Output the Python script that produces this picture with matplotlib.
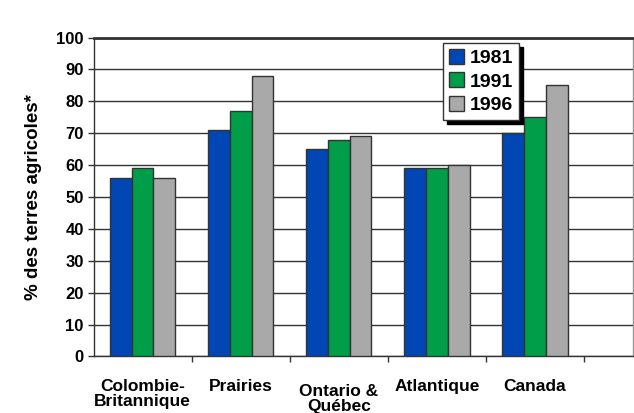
import matplotlib.pyplot as plt
import matplotlib.transforms as mtransforms
import numpy as np

plt.rcParams['font.family'] = ['Liberation Sans', 'DejaVu Sans']
plt.rcParams['font.weight'] = 'bold'

regions = ["Colombie-\nBritannique", "Prairies", "Ontario &\nQuébec", "Atlantique", "Canada"]
years = ["1981", "1991", "1996"]
v1981 = [56, 71, 65, 59, 70]
v1991 = [59, 77, 68, 59, 75]
v1996 = [56, 88, 69, 60, 85]
colors = ["#0046B4", "#009E48", "#A9A9A9"]

fig = plt.figure(figsize=(6.34, 4.13), dpi=100)
ax = fig.add_axes([0.1475, 0.137, 0.851, 0.772])

x = np.arange(len(regions))
w = 0.222
for i, (vals, yr) in enumerate(zip([v1981, v1991, v1996], years)):
    ax.bar(x + (i - 1) * w, vals, w, color=colors[i], edgecolor="#333333",
           linewidth=1, label=yr, zorder=3)

ax.set_xlim(-0.5, 5.0)
ax.set_ylim(0, 100)
ax.set_yticks(range(0, 101, 10))
ax.tick_params(axis='y', labelsize=12, length=4, width=1, color="#333333", pad=3)
ax.yaxis.grid(True, color="#333333", linewidth=1, zorder=0)

# category ticks sit on the group boundaries, labels at group centres
ax.set_xticks(np.arange(0.5, 5.0, 1.0))
ax.set_xticklabels([])
ax.set_xticks(x, minor=True)
ax.set_xticklabels(regions, minor=True, fontsize=12.5, linespacing=1.0)
ax.tick_params(axis='x', which='major', length=4, width=1, color="#333333")
ax.tick_params(axis='x', which='minor', length=0, pad=16)

# the Ontario & Québec label sits a little lower than the others
lbl = ax.get_xticklabels(minor=True)[2]
lbl.set_transform(lbl.get_transform() +
                  mtransforms.ScaledTranslation(0, -4 / 72, fig.dpi_scale_trans))

for s in ['left', 'bottom']:
    ax.spines[s].set_color("#333333")
    ax.spines[s].set_linewidth(1)
ax.spines['top'].set_color("#333333")
ax.spines['top'].set_linewidth(2)
ax.spines['right'].set_color("#999999")
ax.spines['right'].set_linewidth(1)

ax.set_ylabel("% des terres agricoles*", fontsize=13.5, fontweight='bold', labelpad=10)

leg = ax.legend(loc='upper left', bbox_to_anchor=(0.648, 0.983), fontsize=14,
                frameon=True, fancybox=False, edgecolor="#333333", framealpha=1,
                shadow={'color': 'black', 'alpha': 1, 'ox': 3, 'oy': -3},
                handlelength=0.75, handleheight=0.8, handletextpad=0.3,
                borderpad=0.3, labelspacing=0.28, borderaxespad=0)
leg.get_frame().set_linewidth(1)

fig.savefig("out.png", dpi=100)
